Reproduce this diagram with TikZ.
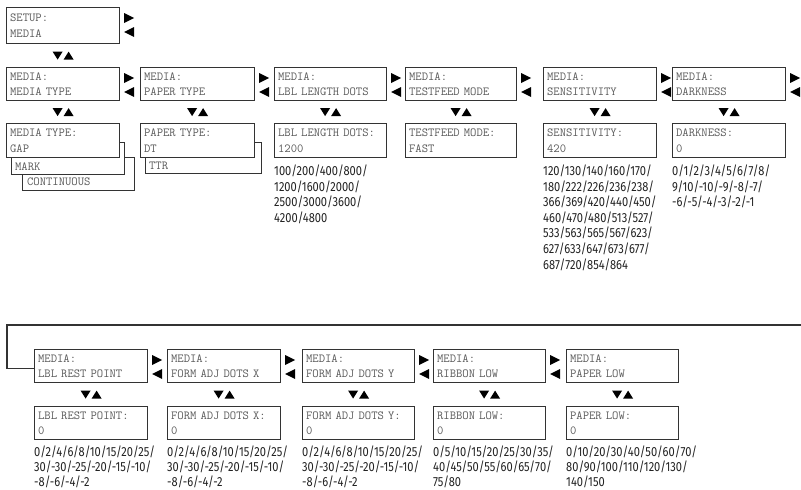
\documentclass[tikz,border=0pt]{standalone}
\usepackage{fontspec}
\usetikzlibrary{calc}
\newfontfamily\monof{Latin Modern Mono}
\newfontfamily\listf[FakeStretch=0.84]{Fira Sans}
\definecolor{boxline}{HTML}{333333}
\definecolor{disptext}{HTML}{5A5A5A}
\definecolor{listtext}{HTML}{222222}
\tikzset{
  disp/.style={draw=boxline, line width=1.2pt, fill=white, inner xsep=4pt, inner ysep=0pt,
    align=left, text=disptext, font=\monof\fontsize{12.3}{15.5}\selectfont},
  vals/.style={inner sep=0pt, align=left, text=listtext, anchor=north west,
    font=\listf\fontsize{13.2}{15.6}\selectfont},
  valsb/.style={vals, font=\listf\fontsize{13.2}{15.1}\selectfont},
  tri/.style={fill=black, draw=none},
  loopline/.style={draw=boxline, line width=1.2pt}
}
\newcommand\dbox[6]{%
  \pgfmathsetmacro\dbw{#4-#2}\pgfmathsetmacro\dbh{#5-#3}\pgfmathsetmacro\dbt{#4-#2-7}%
  \node[disp, inner xsep=3.5pt, minimum width=\dbw pt, minimum height=\dbh pt, text width=\dbt pt, anchor=north west] (#1) at (#2,#3) {#6};}
\newcommand\lrarrows[1]{%
  \fill[tri] ($(#1.north east)+(4,6)$) -- ++(0,10) -- ++(10,-5) -- cycle;
  \fill[tri] ($(#1.north east)+(14,20)$) -- ++(0,10) -- ++(-10,-5) -- cycle;}
\newcommand\updown[2]{%
  \coordinate (ud) at ($(#1.south)!0.5!(#2.north)$);
  \fill[tri] ($(ud)+(-10.5,-4)$) -- ++(10,0) -- ++(-5,8) -- cycle;
  \fill[tri] ($(ud)+(0.5,4)$) -- ++(10,0) -- ++(-5,-8) -- cycle;}
\begin{document}
\begin{tikzpicture}[x=1pt,y=-1pt]
\useasboundingbox (0,0) rectangle (801,490);
% setup
\dbox{setup}{6}{7}{119}{43}{SETUP:\\MEDIA}
\lrarrows{setup}
% top row menu boxes
\dbox{m1}{6}{67}{119}{100}{MEDIA:\\MEDIA TYPE}
\dbox{m2}{140}{67}{254}{100}{MEDIA:\\PAPER TYPE}
\dbox{m3}{274}{67}{386}{100}{MEDIA:\\LBL LENGTH DOTS}
\dbox{m4}{405}{67}{516}{100}{MEDIA:\\TESTFEED MODE}
\dbox{m5}{543}{67}{656}{100}{MEDIA:\\SENSITIVITY}
\dbox{m6}{672}{67}{785}{100}{MEDIA:\\DARKNESS}
\updown{setup}{m1}
\foreach \n in {m1,m2,m3,m4,m5,m6}{\lrarrows{\n}}
% top row value boxes
\dbox{cont}{22}{157}{134}{190}{\vphantom{M}\\\hspace*{1pt}CONTINUOUS}
\dbox{mark}{11}{142}{124}{174}{\vphantom{M}\\MARK}
\dbox{v1}{6}{123}{119}{157}{MEDIA TYPE:\\GAP}
\dbox{ttr}{145}{142}{261}{173}{\vphantom{M}\\TTR}
\dbox{v2}{140}{123}{254}{157}{PAPER TYPE:\\DT}
\dbox{v3}{274}{123}{386}{157}{LBL LENGTH DOTS:\\1200}
\dbox{v4}{405}{123}{516}{157}{TESTFEED MODE:\\FAST}
\dbox{v5}{543}{123}{656}{157}{SENSITIVITY:\\420}
\dbox{v6}{672}{123}{785}{157}{DARKNESS:\\0}
\updown{m1}{v1}\updown{m2}{v2}\updown{m3}{v3}\updown{m4}{v4}\updown{m5}{v5}\updown{m6}{v6}
\node[vals] (l3) at ($(v3.south west)+(0,6.5)$) {100/200/400/800/\\1200/1600/2000/\\2500/3000/3600/\\4200/4800};
\node[vals] (l5) at ($(v5.south west)+(0,6.5)$) {120/130/140/160/170/\\180/222/226/236/238/\\366/369/420/440/450/\\460/470/480/513/527/\\533/563/565/567/623/\\627/633/647/673/677/\\687/720/854/864};
\node[vals] (l6) at ($(v6.south west)+(0,6.5)$) {0/1/2/3/4/5/6/7/8/\\9/10/-10/-9/-8/-7/\\-6/-5/-4/-3/-2/-1};
% bottom row
\dbox{n1}{34}{349}{147}{382}{MEDIA:\\LBL REST POINT}
\dbox{n2}{167}{349}{280}{382}{MEDIA:\\FORM ADJ DOTS X}
\dbox{n3}{302}{349}{414}{382}{MEDIA:\\FORM ADJ DOTS Y}
\dbox{n4}{433}{349}{545}{382}{MEDIA:\\RIBBON LOW}
\dbox{n5}{566}{349}{678}{382}{MEDIA:\\PAPER LOW}
\foreach \n in {n1,n2,n3,n4}{\lrarrows{\n}}
\dbox{w1}{34}{406}{147}{439}{LBL REST POINT:\\0}
\dbox{w2}{167}{406}{280}{439}{FORM ADJ DOTS X:\\0}
\dbox{w3}{302}{406}{414}{439}{FORM ADJ DOTS Y:\\0}
\dbox{w4}{433}{406}{545}{439}{RIBBON LOW:\\0}
\dbox{w5}{566}{406}{678}{439}{PAPER LOW:\\0}
\updown{n1}{w1}\updown{n2}{w2}\updown{n3}{w3}\updown{n4}{w4}\updown{n5}{w5}
\node[valsb] (k1) at ($(w1.south west)+(0,5.5)$) {0/2/4/6/8/10/15/20/25/\\30/-30/-25/-20/-15/-10/\\-8/-6/-4/-2};
\node[valsb] (k2) at ($(w2.south west)+(0,5.5)$) {0/2/4/6/8/10/15/20/25/\\30/-30/-25/-20/-15/-10/\\-8/-6/-4/-2};
\node[valsb] (k3) at ($(w3.south west)+(0,5.5)$) {0/2/4/6/8/10/15/20/25/\\30/-30/-25/-20/-15/-10/\\-8/-6/-4/-2};
\node[valsb] (k4) at ($(w4.south west)+(0,5.5)$) {0/5/10/15/20/25/30/35/\\40/45/50/55/60/65/70/\\75/80};
\node[valsb] (k5) at ($(w5.south west)+(0,5.5)$) {0/10/20/30/40/50/60/70/\\80/90/100/110/120/130/\\140/150};
% loop line
\coordinate (loopR) at (801,325);
\coordinate (loopC) at (7,325);
\draw[loopline] (loopR) -- (loopC) |- ($(n1.west)+(0,2.5)$);
\end{tikzpicture}
\end{document}
